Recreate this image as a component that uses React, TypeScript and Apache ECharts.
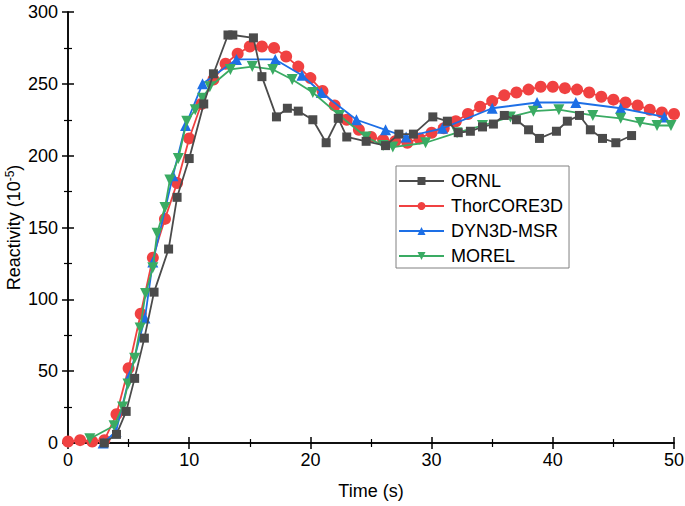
import React, { useEffect, useRef } from "react";
import * as echarts from "echarts";

const xTicks = [0, 10, 20, 30, 40, 50];
const yTicks = [0, 50, 100, 150, 200, 250, 300];

const ornlTime = [3.0, 4.0, 4.8, 5.5, 6.3, 7.1, 8.3, 9.0, 10.0, 11.2, 12.0, 13.2, 13.6, 15.3, 16.0, 17.2, 18.1, 19.0, 20.2, 21.3, 22.3, 23.0, 24.6, 26.2, 27.3, 28.5, 30.1, 31.3, 32.2, 33.2, 34.2, 35.1, 36.0, 37.0, 38.0, 38.9, 40.3, 41.2, 42.2, 43.1, 44.1, 45.2, 46.5];
const ornlValue = [0, 6, 22, 45, 73, 105, 135, 171, 198, 236, 257, 284, 284, 282, 255, 227, 233, 231, 225, 209, 226, 213, 210, 207, 215, 215, 227, 224, 216, 217, 220, 222, 228, 225, 218, 212, 217, 224, 228, 218, 212, 209, 214];

const thorTime = [0, 1, 2, 3, 4, 5, 6, 7, 8, 9, 10, 11, 12, 13, 14, 15, 16, 17, 18, 19, 20, 21, 22, 23, 24, 25, 26, 27, 28, 29, 30, 31, 32, 33, 34, 35, 36, 37, 38, 39, 40, 41, 42, 43, 44, 45, 46, 47, 48, 49, 50];
const thorValue = [1, 2, 1, 2, 20, 52, 90, 129, 156, 181, 212, 236, 253, 264, 271, 276, 276, 275, 269, 262, 254, 245, 235, 225, 218, 213, 211, 210, 209, 212, 216, 219, 224, 229, 234, 238, 242, 244, 246, 248, 248, 247, 246, 244, 241, 239, 237, 235, 232, 230, 229];

const dynTime = [2.9, 3.96, 5.1, 6.35, 7.0, 8.66, 9.7, 11.1, 13.9, 17.1, 19.3, 20.9, 23.8, 26.2, 27.9, 30.9, 35.0, 38.7, 41.9, 45.6, 49.2];
const dynValue = [0, 8, 47, 87, 126, 186, 221, 250, 267, 267, 256, 244, 225, 218, 213, 219, 233, 237, 237, 233, 227];

const morelTime = [1.8, 3.8, 4.5, 4.95, 5.5, 5.95, 6.4, 7.0, 7.35, 8.0, 8.4, 9.1, 9.8, 10.5, 11.1, 11.7, 13.4, 15.2, 16.9, 18.5, 20.2, 22.4, 24.6, 26.0, 26.8, 29.5, 32.1, 34.2, 36.5, 38.4, 40.5, 43.3, 45.6, 47.2, 48.6, 49.75];
const morelValue = [3, 12, 25, 41, 59, 80, 104, 122, 146, 164, 183, 198, 224, 232, 240, 248, 260, 262, 260, 253, 244, 228, 213, 207, 206, 209, 216, 221, 227, 231, 232, 228, 226, 223, 221, 221];

const FONT = 'Arial, "Liberation Sans", sans-serif';

const zip = (a: number[], b: number[]) => a.map((x, i) => [x, b[i]]);

export default function App() {
  const ref = useRef<HTMLDivElement>(null);
  useEffect(() => {
    if (!ref.current) return;
    const chart = echarts.init(ref.current, null, { renderer: "svg" });
    const axisLine = { show: true, lineStyle: { color: "#000", width: 1.5 } };
    const tick = { show: true, inside: true, length: 6, lineStyle: { color: "#000", width: 1.5 } };
    const minor = { show: true, splitNumber: 2, length: 4, lineStyle: { color: "#000", width: 1.2 } };
    const mkSeries = (name: string, data: number[][], color: string, symbol: string, size: number, z: number, rotate = 0) => ({
      name,
      type: "line",
      data,
      symbol,
      symbolSize: size,
      symbolRotate: rotate,
      showSymbol: true,
      z,
      lineStyle: { color, width: 1.8 },
      itemStyle: { color, opacity: 1 },
      emphasis: { disabled: true },
    });
    chart.setOption({
      animation: false,
      textStyle: { fontFamily: FONT },
      grid: { left: 68, right: 11, top: 12, bottom: 63, containLabel: false, outerBoundsMode: "none" },
      legend: {
        orient: "vertical",
        left: 396,
        top: 166,
        itemWidth: 45,
        itemHeight: 10,
        itemGap: 7,
        padding: [6, 6, 3, 2],
        borderColor: "#808080",
        borderWidth: 1,
        selectedMode: false,
        textStyle: { fontSize: 18, color: "#000", fontFamily: FONT, padding: [0, 0, 0, 2] },
        data: ["ORNL", "ThorCORE3D", "DYN3D-MSR", "MOREL"],
      },
      xAxis: [
        {
          type: "value",
          min: xTicks[0],
          max: xTicks[xTicks.length - 1],
          interval: 10,
          name: "Time (s)",
          nameLocation: "middle",
          nameGap: 39,
          nameMoveOverlap: false,
          nameTextStyle: { fontSize: 18, color: "#000", fontFamily: FONT },
          axisLine,
          axisTick: tick,
          minorTick: minor,
          splitLine: { show: false },
          axisLabel: { fontSize: 18, color: "#000", margin: 8, fontFamily: FONT },
        },
        {
          type: "value",
          position: "top",
          min: xTicks[0],
          max: xTicks[xTicks.length - 1],
          interval: 10,
          axisLine,
          axisTick: tick,
          minorTick: minor,
          splitLine: { show: false },
          axisLabel: { show: false },
        },
      ],
      yAxis: [
        {
          type: "value",
          min: yTicks[0],
          max: yTicks[yTicks.length - 1],
          interval: 50,
          name: "{a|Reactivity (10}{s|-5}{a|)}",
          nameLocation: "middle",
          nameGap: 44,
          nameMoveOverlap: false,
          nameTextStyle: {
            fontSize: 18,
            color: "#000",
            fontFamily: FONT,
            rich: {
              a: { fontSize: 18, color: "#000", fontFamily: FONT, lineHeight: 20 },
              s: { fontSize: 12, color: "#000", fontFamily: FONT, verticalAlign: "top", lineHeight: 12 },
            },
          },
          axisLine,
          axisTick: tick,
          minorTick: minor,
          splitLine: { show: false },
          axisLabel: { fontSize: 18, color: "#000", margin: 10, fontFamily: FONT },
        },
        {
          type: "value",
          position: "right",
          min: yTicks[0],
          max: yTicks[yTicks.length - 1],
          interval: 50,
          axisLine,
          axisTick: tick,
          minorTick: minor,
          splitLine: { show: false },
          axisLabel: { show: false },
        },
      ],
      series: [
        mkSeries("ThorCORE3D", zip(thorTime, thorValue), "#f04141", "circle", 12, 2),
        mkSeries("DYN3D-MSR", zip(dynTime, dynValue), "#1d6fe6", "triangle", 11, 3),
        mkSeries("MOREL", zip(morelTime, morelValue), "#3aab63", "triangle", 11, 4, 180),
        mkSeries("ORNL", zip(ornlTime, ornlValue), "#4b4b4b", "rect", 9, 5),
      ],
    });
    return () => chart.dispose();
  }, []);
  return (
    <div
      ref={ref}
      style={{ position: "fixed", left: 0, top: 0, width: 685, height: 506, background: "#fff" }}
    />
  );
}
